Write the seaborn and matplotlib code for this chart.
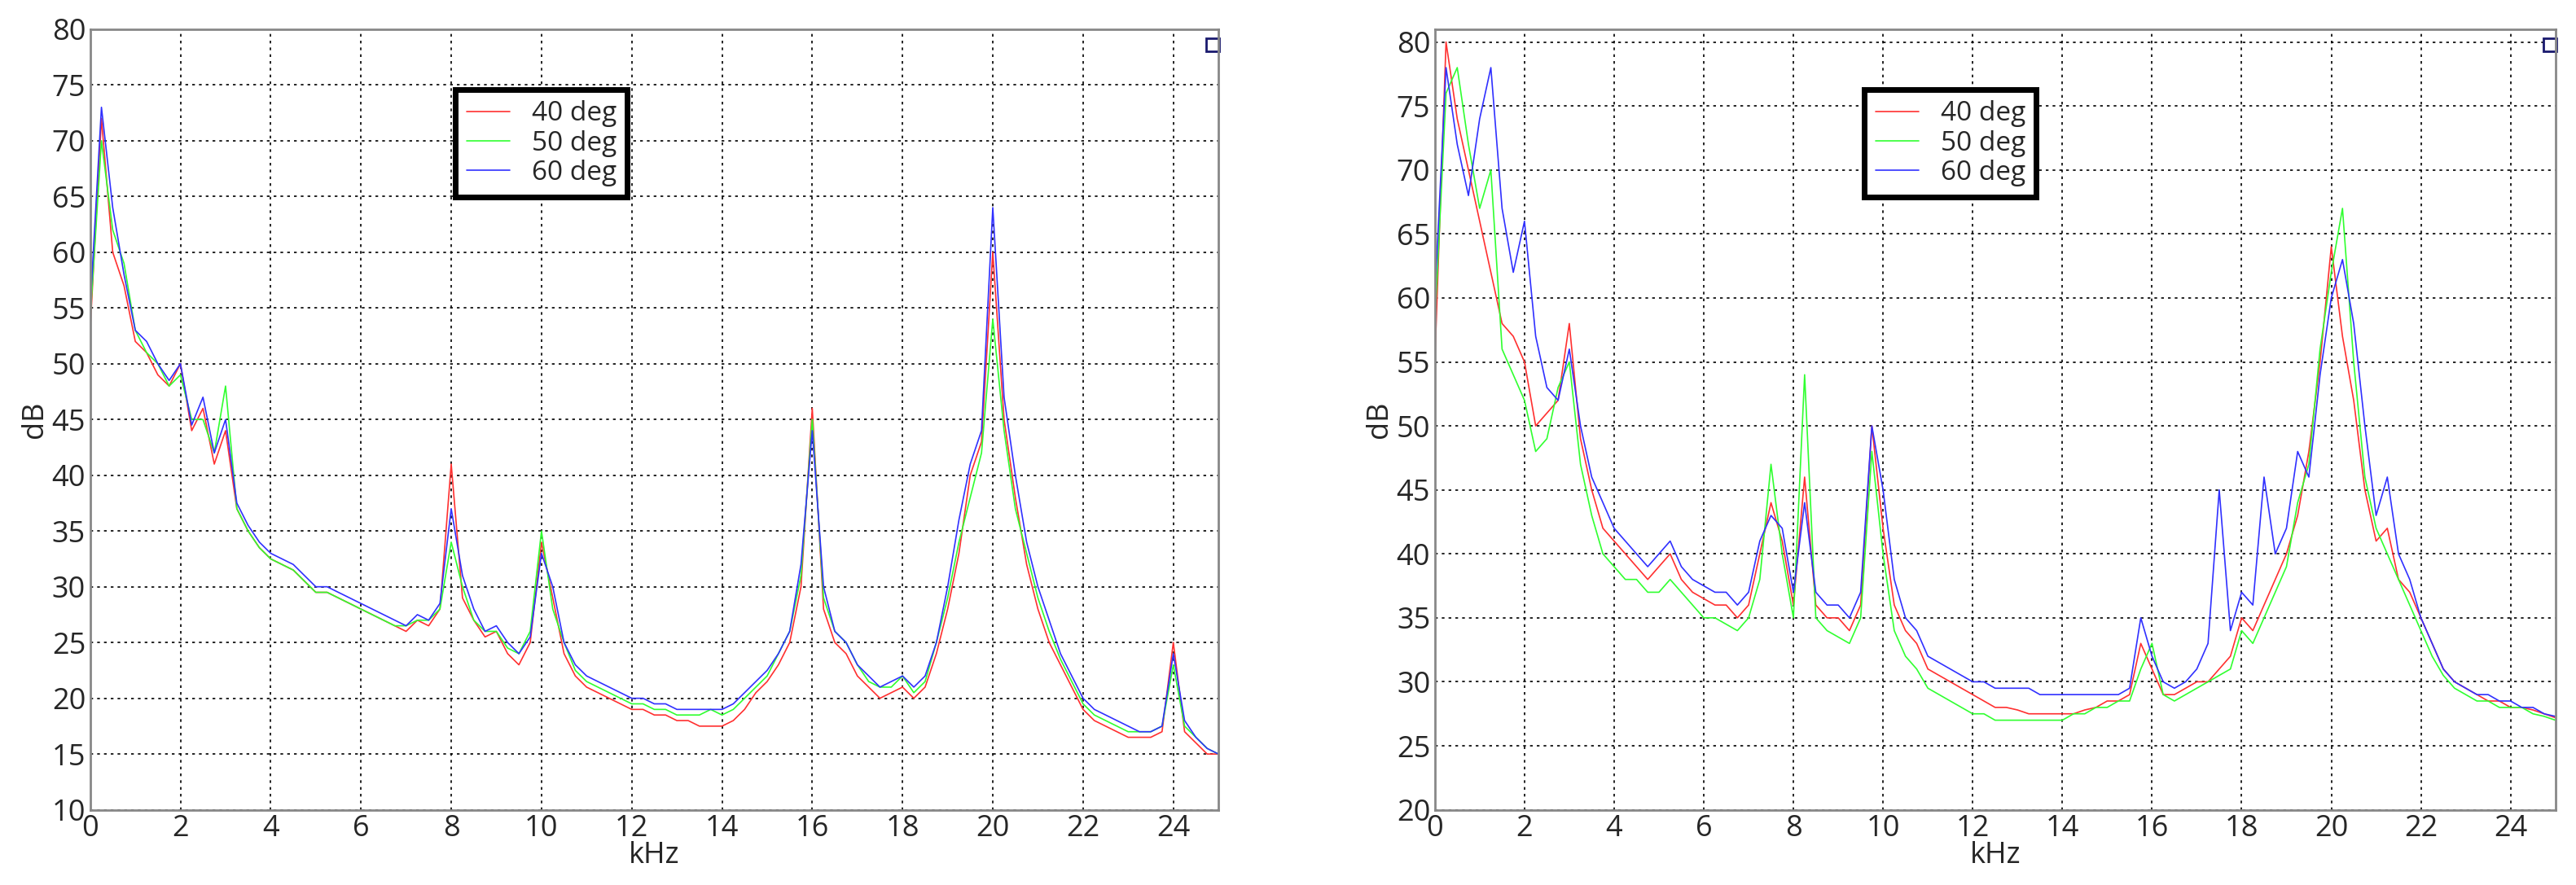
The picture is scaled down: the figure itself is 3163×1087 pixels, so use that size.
import numpy as np
import pandas as pd
import seaborn as sns
import matplotlib.pyplot as plt

# frequency grid, kHz (0 .. 25 step 0.25)
khz = [i * 0.25 for i in range(101)]

left_40 = [53, 72, 60, 57, 52, 51, 49, 48, 50, 44, 46, 41, 44, 37, 35, 33.5, 32.5, 32, 31.5, 30.5,
           29.5, 29.5, 29, 28.5, 28, 27.5, 27, 26.5, 26, 27, 26.5, 28, 41, 29, 27, 25.5, 26, 24, 23, 25,
           34, 29, 24, 22, 21, 20.5, 20, 19.5, 19, 19, 18.5, 18.5, 18, 18, 17.5, 17.5, 17.5, 18, 19, 20.5,
           21.5, 23, 25, 30, 46, 28, 25, 24, 22, 21, 20, 20.5, 21, 20, 21, 24, 28, 33, 40, 43,
           60, 45, 38, 32, 28, 25, 23, 21, 19, 18, 17.5, 17, 16.5, 16.5, 16.5, 17, 25, 17, 16, 15, 15]
left_50 = [54, 70, 62, 59, 53, 51, 50, 48, 49, 45, 45, 42, 48, 37, 35, 33.5, 32.5, 32, 31.5, 30.5,
           29.5, 29.5, 29, 28.5, 28, 27.5, 27, 26.5, 26.5, 27, 27, 28, 34, 30, 27, 26, 26, 24.5, 24, 26,
           35, 28, 25, 22.5, 21.5, 21, 20.5, 20, 19.5, 19.5, 19, 19, 18.5, 18.5, 18.5, 19, 18.5, 19, 20, 21,
           22, 24, 26, 31, 45, 29, 26, 25, 23, 21.5, 21, 21, 22, 20.5, 21.5, 25, 29, 34, 38, 42,
           54, 44, 37, 33, 29, 26, 23.5, 21.5, 19.5, 18.5, 18, 17.5, 17, 17, 17, 17.5, 23, 17.5, 16.5, 15.5, 15]
left_60 = [55, 73, 64, 58, 53, 52, 50, 48.5, 50, 44.5, 47, 42, 45, 37.5, 35.5, 34, 33, 32.5, 32, 31,
           30, 30, 29.5, 29, 28.5, 28, 27.5, 27, 26.5, 27.5, 27, 28.5, 37, 31, 28, 26, 26.5, 25, 24, 25.5,
           33, 30, 25, 23, 22, 21.5, 21, 20.5, 20, 20, 19.5, 19.5, 19, 19, 19, 19, 19, 19.5, 20.5, 21.5,
           22.5, 24, 26, 32, 44, 30, 26, 25, 23, 22, 21, 21.5, 22, 21, 22, 25, 30, 36, 41, 44,
           64, 47, 40, 34, 30, 27, 24, 22, 20, 19, 18.5, 18, 17.5, 17, 17, 17.5, 24, 18, 16.5, 15.5, 15]

right_40 = [55, 80, 74, 70, 66, 62, 58, 57, 55, 50, 51, 52, 58, 49, 45, 42, 41, 40, 39, 38,
            39, 40, 38, 37, 36.5, 36, 36, 35, 36, 40, 44, 41, 36, 46, 36, 35, 35, 34, 36, 50,
            42, 36, 34, 33, 31, 30.5, 30, 29.5, 29, 28.5, 28, 28, 27.8, 27.5, 27.5, 27.5, 27.5, 27.5, 27.8, 28,
            28.5, 28.5, 29, 33, 31, 29, 29, 29.5, 30, 30, 31, 32, 35, 34, 36, 38, 40, 43, 48, 55,
            64, 57, 52, 45, 41, 42, 38, 37, 35, 33, 31, 30, 29.5, 29, 28.5, 28.5, 28, 28, 27.8, 27.5, 27.2]
right_50 = [58, 76, 78, 72, 67, 70, 56, 54, 52, 48, 49, 53, 55, 47, 43, 40, 39, 38, 38, 37,
            37, 38, 37, 36, 35, 35, 34.5, 34, 35, 38, 47, 40, 35, 54, 35, 34, 33.5, 33, 35, 48,
            40, 34, 32, 31, 29.5, 29, 28.5, 28, 27.5, 27.5, 27, 27, 27, 27, 27, 27, 27, 27.5, 27.5, 28,
            28, 28.5, 28.5, 31, 33, 29, 28.5, 29, 29.5, 30, 30.5, 31, 34, 33, 35, 37, 39, 44, 47, 56,
            62, 67, 55, 46, 42, 40, 38, 36, 34, 32, 30.5, 29.5, 29, 28.5, 28.5, 28, 28, 28, 27.5, 27.3, 27]
right_60 = [60, 78, 72, 68, 74, 78, 67, 62, 66, 57, 53, 52, 56, 50, 46, 44, 42, 41, 40, 39,
            40, 41, 39, 38, 37.5, 37, 37, 36, 37, 41, 43, 42, 37, 44, 37, 36, 36, 35, 37, 50,
            45, 38, 35, 34, 32, 31.5, 31, 30.5, 30, 30, 29.5, 29.5, 29.5, 29.5, 29, 29, 29, 29, 29, 29,
            29, 29, 29.5, 35, 32, 30, 29.5, 30, 31, 33, 45, 34, 37, 36, 46, 40, 42, 48, 46, 54,
            60, 63, 58, 50, 43, 46, 40, 38, 35, 33, 31, 30, 29.5, 29, 29, 28.5, 28.5, 28, 28, 27.5, 27.3]

labels = ['40 deg', '50 deg', '60 deg']
colors = ['#ff3030', '#30ff30', '#3030ff']

sns.set_style('white')
plt.rcParams['font.family'] = ['Open Sans', 'DejaVu Sans']

fig = plt.figure(figsize=(31.63, 10.87), dpi=100)
ax1 = fig.add_axes([0.035, 0.085, 0.438, 0.882])
ax2 = fig.add_axes([0.557, 0.085, 0.435, 0.882])

panels = [(ax1, [left_40, left_50, left_60], (10, 80), 0.40),
          (ax2, [right_40, right_50, right_60], (20, 81), 0.46)]

for ax, series, ylim, legx in panels:
    df = pd.DataFrame({'kHz': khz * 3,
                       'dB': sum(series, []),
                       'angle': sum([[l] * len(khz) for l in labels], [])})
    sns.lineplot(data=df, x='kHz', y='dB', hue='angle', palette=colors,
                 linewidth=1.2, ax=ax)
    ax.set_xlim(0, 25)
    ax.set_ylim(*ylim)
    ax.set_xticks(range(0, 25, 2))
    ax.set_yticks(range(ylim[0], 81, 5))
    ax.tick_params(labelsize=26, length=0, pad=4)
    ax.grid(True, color='black', linestyle=(0, (2, 3)), linewidth=1.2)
    for s in ax.spines.values():
        s.set_color('#888888')
        s.set_linewidth(2)
    ax.set_xlabel('kHz', fontsize=26, labelpad=-2)
    ax.set_ylabel('dB', fontsize=26, labelpad=2)
    leg = ax.legend(loc='upper center', bbox_to_anchor=(legx, 0.94), fontsize=24,
                    fancybox=False, framealpha=1, handlelength=1.6, borderpad=0.4,
                    labelspacing=0.1)
    leg.get_frame().set_edgecolor('black')
    leg.get_frame().set_linewidth(5)
    ax.plot([0.995], [0.98], marker='s', markersize=12, markerfacecolor='white',
            markeredgecolor='#1a1a6e', markeredgewidth=2, transform=ax.transAxes,
            clip_on=False)

fig.savefig('out.png', dpi=100)
